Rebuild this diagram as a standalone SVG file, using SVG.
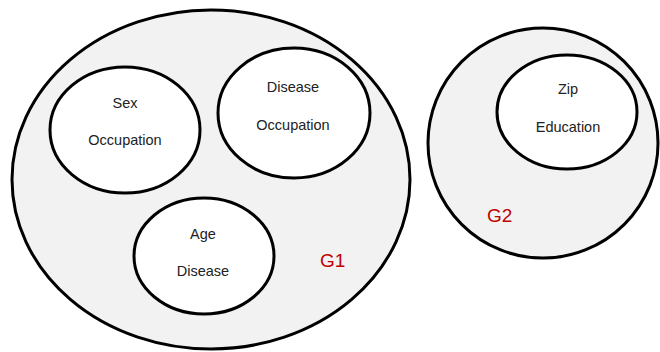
<svg xmlns="http://www.w3.org/2000/svg" width="660" height="352" viewBox="0 0 660 352">
<style>
.grp{fill:#f2f2f2;stroke:#000;stroke-width:3}
.set{fill:#fff;stroke:#000;stroke-width:3}
.t{font-family:"Liberation Sans",Arial,sans-serif;font-size:14.5px;fill:#222;text-anchor:middle}
.g{font-family:"Liberation Sans",Arial,sans-serif;font-size:19px;fill:#c00000}
</style>
<g id="G1">
<ellipse class="grp" cx="211" cy="179.5" rx="199" ry="169.5"/>
<text class="g" x="320" y="267">G1</text>
</g>
<g id="G2">
<ellipse class="grp" cx="543" cy="143" rx="115" ry="115"/>
<text class="g" x="487" y="222">G2</text>
</g>
<g id="n_sex_occ">
<ellipse class="set" cx="125" cy="130" rx="75" ry="63"/>
<text class="t" x="125" y="108">Sex</text>
<text class="t" x="125" y="145">Occupation</text>
</g>
<g id="n_dis_occ">
<ellipse class="set" cx="294" cy="113" rx="76" ry="65"/>
<text class="t" x="293" y="92">Disease</text>
<text class="t" x="293" y="130">Occupation</text>
</g>
<g id="n_age_dis">
<ellipse class="set" cx="204" cy="256" rx="70" ry="58"/>
<text class="t" x="203" y="239">Age</text>
<text class="t" x="203" y="276">Disease</text>
</g>
<g id="n_zip_edu">
<ellipse class="set" cx="567" cy="112" rx="70" ry="57"/>
<text class="t" x="568" y="94">Zip</text>
<text class="t" x="568" y="132">Education</text>
</g>
<g id="connectors"></g>
</svg>
